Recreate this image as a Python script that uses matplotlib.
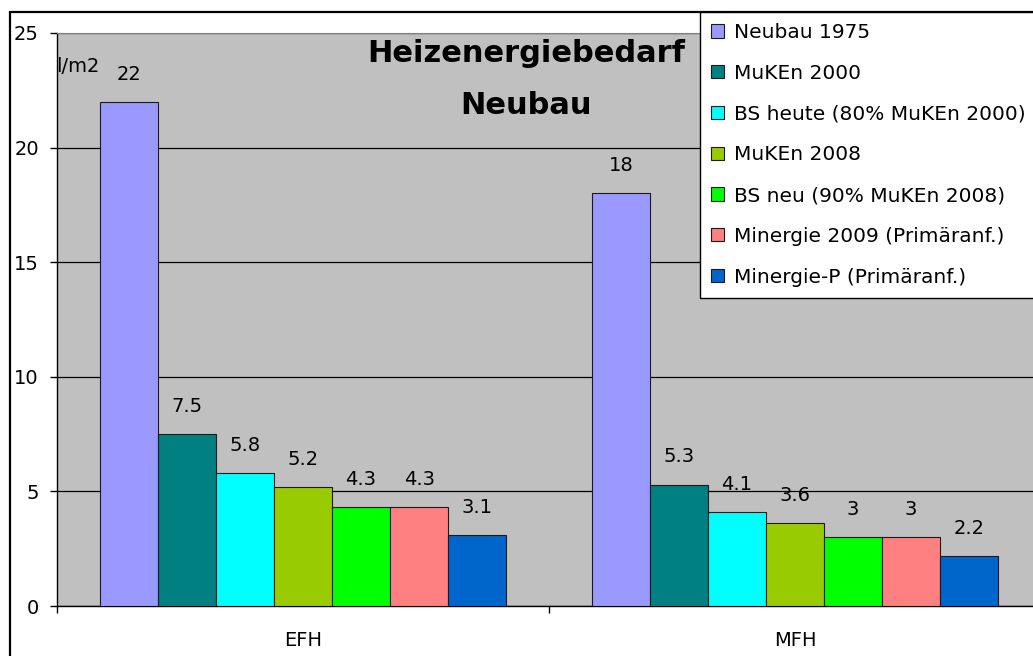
import matplotlib
matplotlib.use("Agg")
import matplotlib.pyplot as plt
import numpy as np
from matplotlib.patches import Rectangle

groups = ["EFH", "MFH"]
series = ["Neubau 1975", "MuKEn 2000", "BS heute (80% MuKEn 2000)", "MuKEn 2008",
          "BS neu (90% MuKEn 2008)", "Minergie 2009 (Primäranf.)", "Minergie-P (Primäranf.)"]
efh = [22, 7.5, 5.8, 5.2, 4.3, 4.3, 3.1]
mfh = [18, 5.3, 4.1, 3.6, 3, 3, 2.2]
colors = ["#9999FF", "#008080", "#00FFFF", "#99CC00", "#00FF00", "#FF8080", "#0066CC"]

W, H = 1033, 656
fig = plt.figure(figsize=(W / 100, H / 100), dpi=100)
fig.patch.set_facecolor("white")

def px(x, y):
    # pixel coords (from top-left) -> figure fraction
    return x / W, 1 - y / H

ax = fig.add_axes([57 / W, 50 / H, 984 / W, 573 / H])
ax.set_facecolor("#C0C0C0")

x = np.arange(len(groups))
width = 0.118
values = np.array([efh, mfh]).T  # series x groups
for i, (name, col) in enumerate(zip(series, colors)):
    rects = ax.bar(x + (i - 3) * width, values[i], width, color=col,
                   edgecolor="#1a1a1a", linewidth=0.8, label=name, zorder=3)
    for r in rects:
        h = r.get_height()
        ax.annotate('{:g}'.format(h), xy=(r.get_x() + r.get_width() / 2, h),
                    xytext=(0, 13), textcoords="offset points",
                    ha='center', va='bottom', fontsize=14, zorder=4)

ax.set_xlim(-0.5, 1.5)
ax.set_ylim(0, 25)
ax.set_yticks([0, 5, 10, 15, 20, 25])
ax.yaxis.grid(True, color="black", linewidth=0.9, zorder=1)
ax.set_axisbelow(True)
ax.tick_params(axis='y', direction='out', length=5, width=1, pad=8, labelsize=14)

# group boundaries as major ticks, group names as minor labels
ax.set_xticks([-0.5, 0.5, 1.5])
ax.set_xticklabels([])
ax.set_xticks(x, minor=True)
ax.set_xticklabels(groups, minor=True)
ax.tick_params(axis='x', which='major', direction='out', length=5, width=1)
ax.tick_params(axis='x', which='minor', length=0, pad=18, labelsize=14)

for s in ["left", "bottom"]:
    ax.spines[s].set_color("black")
    ax.spines[s].set_linewidth(1)
ax.spines["top"].set_color("#808080")
ax.spines["right"].set_visible(False)

# unit label, partly hidden by the axis line
fig.text(*px(56, 72), "l/m2", fontsize=14, ha='left', va='baseline')

# title inside the plot area
fig.text(*px(526, 62), "Heizenergiebedarf", fontsize=22, fontweight='bold',
         ha='center', va='baseline')
fig.text(*px(526, 114), "Neubau", fontsize=22, fontweight='bold',
         ha='center', va='baseline')

# outer frame (cropped at right and bottom)
fig.patches.append(Rectangle(px(10, 700), 1.2, (700 - 12) / H, transform=fig.transFigure,
                             fill=False, edgecolor="black", linewidth=1.6, clip_on=False))

leg = fig.legend(loc='upper left', bbox_to_anchor=px(700, 12), fontsize=14.5,
                 frameon=True, fancybox=False, edgecolor="black", framealpha=1,
                 handlelength=0.65, handleheight=0.65, handletextpad=0.5,
                 labelspacing=1.08, borderpad=0.55, borderaxespad=0)
leg.get_frame().set_linewidth(1)
leg.set_zorder(10)

fig.savefig("out.png", dpi=100)
